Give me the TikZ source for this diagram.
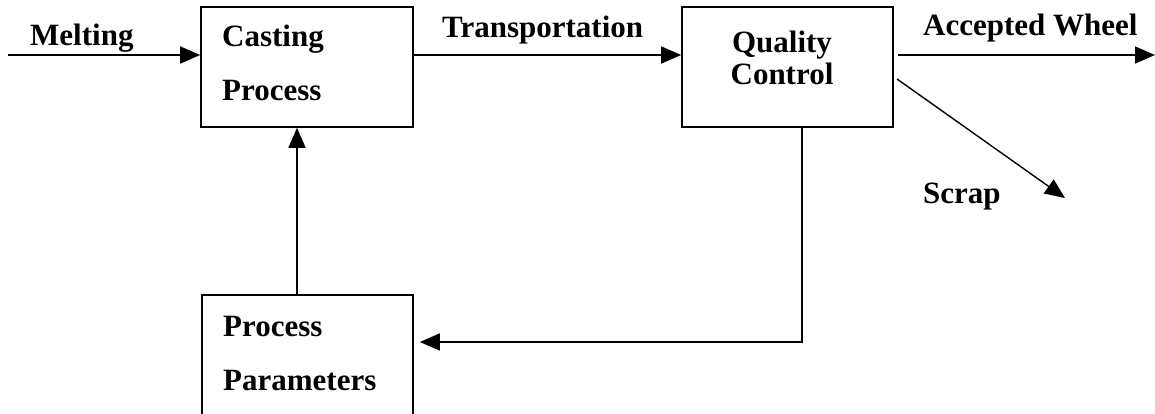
\documentclass[tikz,border=0pt]{standalone}
\usepackage{fontspec}
\setmainfont{Liberation Serif}
\usetikzlibrary{arrows.meta,calc}
\begin{document}
\begin{tikzpicture}[x=1pt,y=-1pt,
  boxnode/.style={draw,line width=1.6pt,rectangle,inner sep=0pt},
  lbl/.style={inner sep=0pt,font=\bfseries\fontsize{31}{31}\selectfont},
  conn/.style={line width=1.4pt,-{Triangle[length=20pt,width=17pt]}}]
\clip (0,0) rectangle (1155,414);
\fill[white] (0,0) rectangle (1155,414);
% boxes
\node[boxnode,minimum width=212pt,minimum height=120pt] (cast) at (307,67) {};
\node[boxnode,minimum width=211pt,minimum height=120pt] (qc) at (787.5,67) {};
\node[boxnode,minimum width=211pt,minimum height=124pt] (pp) at (307.5,357) {};
% texts
\node[lbl,anchor=base west] (tmelt) at (30,46) {Melting};
\node[lbl,anchor=base west] (tcast1) at (222,47) {Casting};
\node[lbl,anchor=base west] (tcast2) at (222,101) {Process};
\node[lbl,anchor=base west] (ttrans) at (442,38) {Transportation};
\node[lbl,anchor=base] (tqc1) at (782,53) {Quality};
\node[lbl,anchor=base] (tqc2) at (782,85) {Control};
\node[lbl,anchor=base west] (tacc) at (923,36) {Accepted Wheel};
\node[lbl,anchor=base west] (tscrap) at (923,203) {Scrap};
\node[lbl,anchor=base west] (tpp1) at (223,336) {Process};
\node[lbl,anchor=base west] (tpp2) at (223,390) {Parameters};
% coordinates
\coordinate (m0) at (8,55);
\coordinate (aw) at (1155,55);
\coordinate (s0) at (897,79);
\coordinate (s1) at (1065,198);
\coordinate (fbx) at (802,342);
\coordinate (vx) at (297,0);
% connectors
\draw[conn] (m0) -- (m0 -| cast.west);
\draw[conn] (cast.east |- m0) -- (qc.west |- m0);
\draw[conn] ($(qc.east |- aw)+(4,0)$) -- (aw);
\draw[conn] (s0) -- (s1);
\draw[conn] (qc.south -| fbx) |- ($(pp.east |- fbx)+(6,0)$);
\draw[conn] (pp.north -| vx) -- (cast.south -| vx);
\end{tikzpicture}
\end{document}
